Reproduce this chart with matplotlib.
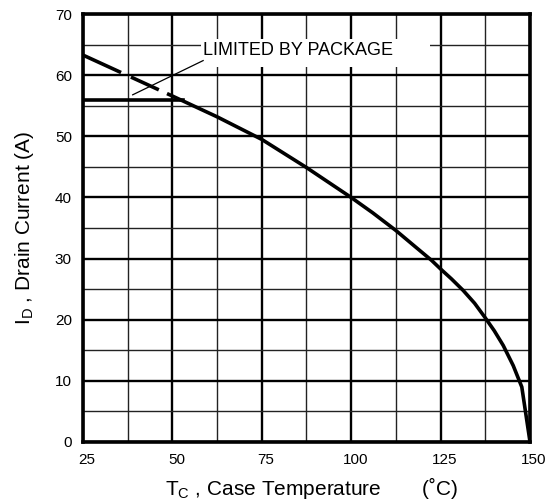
import numpy as np
import matplotlib.pyplot as plt
from matplotlib.patches import Rectangle
from matplotlib.ticker import MultipleLocator
from matplotlib.transforms import ScaledTranslation

plt.rcParams['font.family'] = ['Liberation Sans', 'DejaVu Sans']
plt.rcParams['mathtext.fontset'] = 'custom'
plt.rcParams['mathtext.rm'] = 'Liberation Sans'

# max drain current vs case temperature
tc = [25, 50, 62.5, 75, 87.5, 100, 106, 112.5, 118, 122.5, 125, 128,
      131.3, 134.5, 137.5, 140, 142.5, 145.3, 147.7, 150]
id_max = [63.3, 56.6, 53.2, 49.5, 44.9, 40.0, 37.5, 34.6, 31.9, 29.7, 28.3, 26.7,
          24.8, 22.7, 20.3, 18.2, 15.8, 12.5, 9.0, 0.0]
# package limit
tc_pkg = [25, 53]
id_pkg = [56, 56]
tc_split = 48.5  # dashed part of curve ends here

x_ticks = [25, 50, 75, 100, 125, 150]
y_ticks = [0, 10, 20, 30, 40, 50, 60, 70]

fig = plt.figure(figsize=(5.55, 5.01), dpi=100)
ax = fig.add_axes([0.1495, 0.1178, 0.8055, 0.854])

tc = np.array(tc)
id_max = np.array(id_max)
y_split = np.interp(tc_split, tc, id_max)
dash = tc < tc_split
ax.plot(np.append(tc[dash], tc_split), np.append(id_max[dash], y_split),
        color='black', lw=2.6, ls=(0, (11.6, 3.0, 8.5, 2.7)), zorder=3)
ax.plot(np.insert(tc[~dash], 0, tc_split), np.insert(id_max[~dash], 0, y_split),
        color='black', lw=2.6, zorder=3, solid_capstyle='butt', solid_joinstyle='round')
ax.plot(tc_pkg, id_pkg, color='black', lw=2.6, zorder=3)

# label for the package limit
ax.add_patch(Rectangle((58, 61.3), 64, 4.6, facecolor='white', edgecolor='none', zorder=2.5))
ax.text(58.6, 64.1, 'LIMITED BY PACKAGE', fontsize=13, va='center', ha='left', zorder=4)
ax.plot([58.6, 38.9], [62.4, 56.8], color='black', lw=0.9, zorder=4)

ax.set_xlim(25, 150)
ax.set_ylim(0, 70)
ax.set_xticks(x_ticks)
ax.set_yticks(y_ticks)
ax.xaxis.set_minor_locator(MultipleLocator(12.5))
ax.yaxis.set_minor_locator(MultipleLocator(5))
ax.set_axisbelow(True)
ax.grid(which='major', color='black', lw=1.7)
ax.grid(which='minor', color='#222222', lw=1.0)
ax.tick_params(which='both', length=0, pad=8, labelsize=11)
shift = ScaledTranslation(4 / 100, 0, fig.dpi_scale_trans)
for lab in ax.get_xticklabels():
    lab.set_transform(lab.get_transform() + shift)
for s in ax.spines.values():
    s.set_linewidth(2.6)

ax.set_xlabel(r'T$_\mathrm{C}$ , Case Temperature       (˚C)', fontsize=15, va='center')
ax.xaxis.set_label_coords(0.511, -0.107)
ax.set_ylabel(r'I$_\mathrm{D}$ , Drain Current (A)', fontsize=15, va='center')
ax.yaxis.set_label_coords(-0.13, 0.5)

fig.savefig('out.png', dpi=100)
